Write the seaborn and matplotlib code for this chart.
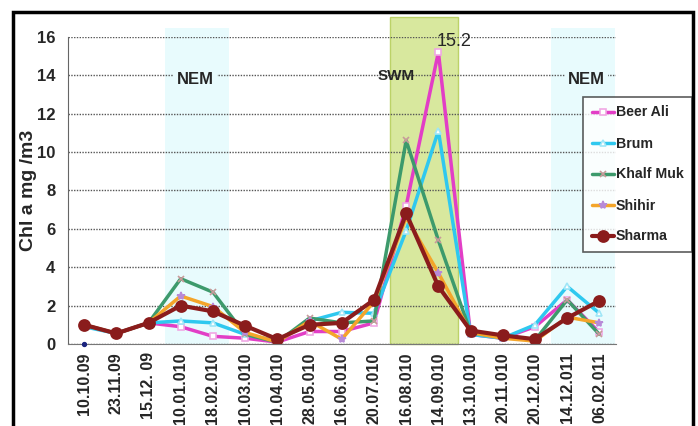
import numpy as np
import pandas as pd
import matplotlib
matplotlib.use("Agg")
import matplotlib.pyplot as plt
from matplotlib.patches import Rectangle
import seaborn as sns

# sampling dates
dates = ['10.10.09', '23.11.09', '15.12. 09', '10.01.010', '18.02.010', '10.03.010',
         '10.04.010', '28.05.010', '16.06.010', '20.07.010', '16.08.010', '14.09.010',
         '13.10.010', '20.11.010', '20.12.010', '14.12.011', '06.02.011']

# Chl a (mg/m3) per station
beer_ali = [0.95, 0.55, 1.1, 0.9, 0.4, 0.3, 0.1, 0.65, 0.65, 1.1, 7.2, 15.2, 0.5, 0.3, 0.9, 2.3, 0.6]
brum = [0.9, 0.55, 1.1, 1.2, 1.1, 0.5, 0.15, 1.2, 1.65, 1.6, 5.9, 11.1, 0.5, 0.3, 1.0, 3.0, 1.6]
khalf_muk = [1.0, 0.55, 1.1, 3.4, 2.7, 0.5, 0.1, 1.35, 1.1, 1.2, 10.6, 5.4, 0.6, 0.35, 0.2, 2.3, 0.5]
shihir = [1.0, 0.55, 1.1, 2.5, 1.95, 0.6, 0.1, 1.2, 0.25, 2.2, 6.6, 3.7, 0.6, 0.3, 0.15, 1.4, 1.1]
sharma = [1.0, 0.55, 1.1, 2.0, 1.7, 0.95, 0.25, 1.0, 1.1, 2.3, 6.8, 3.0, 0.7, 0.45, 0.25, 1.35, 2.25]

stations = ['Beer Ali', 'Brum', 'Khalf Muk', 'Shihir', 'Sharma']
values = [beer_ali, brum, khalf_muk, shihir, sharma]

df = pd.DataFrame({'date': dates * len(stations),
                   'station': np.repeat(stations, len(dates)),
                   'chl': np.concatenate(values)})

styles = {
    'Beer Ali': dict(color='#e23ec6', marker='s', mfc='white', mec='#f0a8e4', ms=5, lw=2.5),
    'Brum': dict(color='#2fc8ef', marker='^', mfc='white', mec='#9fe6f7', ms=5, lw=2.5),
    'Khalf Muk': dict(color='#3d9a6c', marker='x', mec='#c89a9a', ms=5, lw=2.5),
    'Shihir': dict(color='#f4a52a', marker='*', mec='#b88ad8', mfc='#b88ad8', ms=6, lw=2.5),
    'Sharma': dict(color='#8a1c1c', marker='o', mec='#8a1c1c', ms=8, lw=3),
}

sns.set_style("white")
plt.rcParams['font.family'] = ['Liberation Sans', 'DejaVu Sans']

fig = plt.figure(figsize=(6.98, 4.26), dpi=100)
ax = fig.add_axes([68 / 698, 1 - 344 / 426, (615.5 - 68) / 698, (344 - 36.8) / 426])

# season bands
nem_color = '#e8fbfd'
ax.axvspan(2.5, 4.5, ymax=1.03, color=nem_color, zorder=0.1, lw=0, clip_on=False)
ax.axvspan(14.5, 16.5, ymax=1.03, color=nem_color, zorder=0.1, lw=0, clip_on=False)
ax.add_patch(Rectangle((9.5, 0), 2.1, 17.05, facecolor='#d8e89e', edgecolor='#bcd268',
                       lw=1, zorder=0.1, clip_on=False))

for st in stations:
    s = styles[st]
    sns.lineplot(data=df[df.station == st], x='date', y='chl', ax=ax, sort=False,
                 color=s['color'], marker=s['marker'], markersize=s['ms'],
                 markerfacecolor=s.get('mfc', s['mec']), markeredgecolor=s['mec'],
                 markeredgewidth=1.2, linewidth=s['lw'], label=st)

# stray point at origin
ax.scatter([0], [0], s=8, color='#1a237e', zorder=5, clip_on=False)

ax.set_xlim(-0.5, 16.5)
ax.set_ylim(0, 16)
ax.set_yticks(np.arange(0, 17, 2))
ax.set_xticks(range(len(dates)))
ax.set_xticklabels(dates, rotation=90, fontsize=11.5, fontweight='bold')
ax.set_xticks(np.arange(-0.5, 17, 1), minor=True)
ax.tick_params(axis='x', which='major', length=0, pad=6)
ax.tick_params(axis='x', which='minor', length=5, width=1, color='#555555', direction='out')
ax.tick_params(axis='y', length=4, width=1, color='#555555', direction='out', labelsize=12, pad=5)
for lab in ax.get_yticklabels():
    lab.set_fontweight('bold')

ax.set_axisbelow(True)
ax.yaxis.grid(True, linestyle=(0, (1, 1)), color='#555555', lw=1)
ax.xaxis.grid(False)
for sp in ['top', 'right']:
    ax.spines[sp].set_visible(False)
ax.spines['left'].set_color('#666666')
ax.spines['bottom'].set_color('#777777')

ax.set_xlabel('')
ax.set_ylabel('Chl a mg /m3', fontsize=14, fontweight='bold', labelpad=0)

ax.text(3.45, 13.8, 'NEM', ha='center', va='center', fontsize=12, fontweight='bold',
        bbox=dict(facecolor=nem_color, edgecolor='none', pad=2))
ax.text(15.6, 13.8, 'NEM', ha='center', va='center', fontsize=12, fontweight='bold',
        bbox=dict(facecolor=nem_color, edgecolor='none', pad=2))
ax.text(9.7, 13.95, 'SWM', ha='center', va='center', fontsize=11, fontweight='bold')
ax.text(11.5, 15.75, '15.2', ha='center', va='center', fontsize=13)

leg = ax.legend(loc='upper left', bbox_to_anchor=(583 / 698, 1 - 97 / 426),
                bbox_transform=fig.transFigure, fancybox=False, framealpha=0.8,
                edgecolor='#333333', handlelength=1.6, handletextpad=0.1,
                labelspacing=1.2, borderpad=0.6, borderaxespad=0,
                prop={'weight': 'bold', 'size': 10.2})
leg.get_frame().set_linewidth(1.2)

# outer frame
fig.patches.append(Rectangle((13 / 698, -0.05), (693 - 13) / 698, 1.05 - 12 / 426,
                             transform=fig.transFigure, fill=False, edgecolor='black', lw=2.5))

fig.savefig('out.png', dpi=100)
